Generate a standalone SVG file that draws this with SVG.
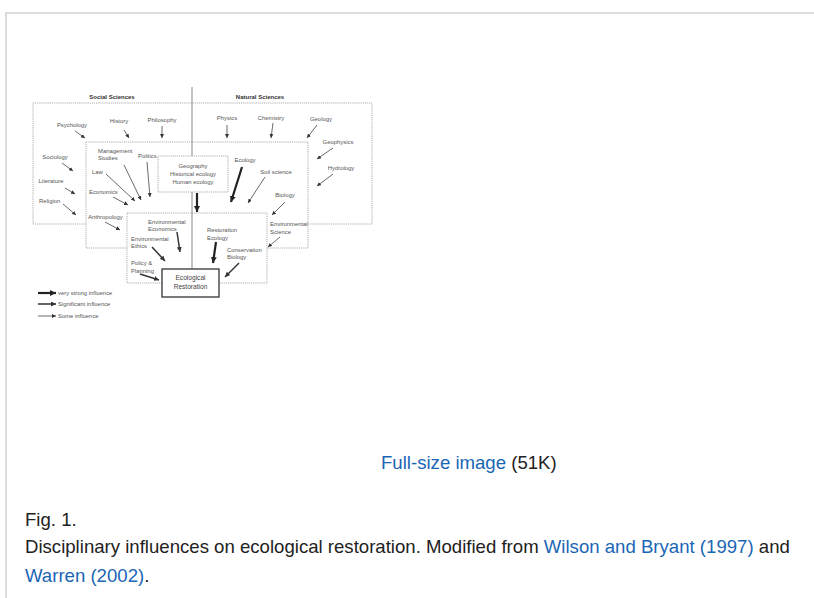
<svg xmlns="http://www.w3.org/2000/svg" width="814" height="598" viewBox="0 0 814 598">
<style>
.t{font-family:"Liberation Sans",Arial,sans-serif;font-size:5.9px;fill:#555}
.c{text-anchor:middle}
.b{font-weight:bold;fill:#333;font-size:6px}
.er{font-size:6.6px;fill:#444}
.box{fill:#fff;stroke:#999;stroke-width:0.8;stroke-dasharray:1.2 0.9}
.a1{fill:none;stroke:#444;stroke-width:0.8;marker-end:url(#h1)}
.a2{fill:none;stroke:#333;stroke-width:1.5;marker-end:url(#h2)}
.a3{fill:none;stroke:#222;stroke-width:2.2;marker-end:url(#h3)}
.cap{font-family:"Liberation Sans",Arial,sans-serif;font-size:18.6px;fill:#222}
.lnk{fill:#1a66b5}
</style>
<defs>
<marker id="h1" markerUnits="userSpaceOnUse" markerWidth="5" markerHeight="4" refX="4" refY="2" orient="auto"><path d="M0,0 L4,2 L0,4 Z" fill="#333"/></marker>
<marker id="h2" markerUnits="userSpaceOnUse" markerWidth="6" markerHeight="5" refX="5" refY="2.5" orient="auto"><path d="M0,0 L5,2.5 L0,5 Z" fill="#333"/></marker>
<marker id="h3" markerUnits="userSpaceOnUse" markerWidth="7" markerHeight="6" refX="6" refY="3" orient="auto"><path d="M0,0 L6,3 L0,6 Z" fill="#222"/></marker>
</defs>
<rect width="814" height="598" fill="#fff"/>
<g id="page-frame">
<line x1="5" y1="13" x2="814" y2="13" stroke="#dcdcdc" stroke-width="2"/>
<line x1="6" y1="12" x2="6" y2="598" stroke="#dcdcdc" stroke-width="2"/>
</g>
<g id="outer-box"><rect class="box" x="33" y="103" width="339" height="121"/></g>
<g id="middle-box"><rect class="box" x="86" y="142" width="222" height="106"/></g>
<g id="inner-box"><rect class="box" x="127" y="213" width="140" height="70"/></g>
<g id="divider"><line x1="192" y1="87" x2="192" y2="269" stroke="#888" stroke-width="1"/></g>
<g id="geography">
<rect class="box" x="158" y="156" width="70" height="36"/>
<text class="t c" x="193" y="168">Geography</text>
<text class="t c" x="193" y="176">Historical ecology</text>
<text class="t c" x="193" y="184">Human ecology</text>
</g>
<g id="ecological-restoration">
<rect x="162" y="269" width="57" height="28" fill="#fff" stroke="#333" stroke-width="1.3"/>
<text class="t c er" x="190.5" y="280">Ecological</text>
<text class="t c er" x="190.5" y="288.5">Restoration</text>
</g>
<g id="titles">
<text class="t c b" x="112" y="99">Social Sciences</text>
<text class="t c b" x="260" y="99">Natural Sciences</text>
</g>
<g id="psychology"><text class="t c" x="72" y="127">Psychology</text></g>
<g id="history"><text class="t c" x="119" y="123">History</text></g>
<g id="philosophy"><text class="t c" x="162" y="122">Philosophy</text></g>
<g id="physics"><text class="t c" x="227" y="120">Physics</text></g>
<g id="chemistry"><text class="t c" x="271" y="120">Chemistry</text></g>
<g id="geology"><text class="t c" x="321" y="121">Geology</text></g>
<g id="geophysics"><text class="t c" x="338" y="144">Geophysics</text></g>
<g id="hydrology"><text class="t c" x="341" y="170">Hydrology</text></g>
<g id="sociology"><text class="t c" x="55" y="159">Sociology</text></g>
<g id="literature"><text class="t c" x="51" y="183">Literature</text></g>
<g id="religion"><text class="t" x="39" y="203">Religion</text></g>
<g id="management"><text class="t" x="98" y="153">Management</text><text class="t" x="98" y="160">Studies</text></g>
<g id="politics"><text class="t" x="138" y="158">Politics</text></g>
<g id="law"><text class="t" x="92" y="174">Law</text></g>
<g id="economics"><text class="t" x="89" y="194">Economics</text></g>
<g id="anthropology"><text class="t" x="88" y="219">Anthropology</text></g>
<g id="ecology"><text class="t c" x="245" y="162">Ecology</text></g>
<g id="soil-science"><text class="t c" x="276" y="174">Soil science</text></g>
<g id="biology"><text class="t c" x="285" y="197">Biology</text></g>
<g id="environmental-science"><text class="t" x="270" y="226">Environmental</text><text class="t" x="270" y="233.5">Science</text></g>
<g id="environmental-economics"><text class="t" x="148" y="224">Environmental</text><text class="t" x="148" y="231">Economics</text></g>
<g id="restoration-ecology"><text class="t" x="207" y="232">Restoration</text><text class="t" x="207" y="239.5">Ecology</text></g>
<g id="conservation-biology"><text class="t" x="227" y="252">Conservation</text><text class="t" x="227" y="259">Biology</text></g>
<g id="environmental-ethics"><text class="t" x="131" y="241">Environmental</text><text class="t" x="131" y="248">Ethics</text></g>
<g id="policy-planning"><text class="t" x="131" y="265">Policy &amp;</text><text class="t" x="131" y="272.5">Planning</text></g>
<g id="connectors">
<path class="a1" d="M75,131 L85,138"/>
<path class="a1" d="M124,130 L129,138"/>
<path class="a1" d="M162,126 L162,138"/>
<path class="a1" d="M62,163 L73,171"/>
<path class="a1" d="M65,188 L75,194"/>
<path class="a1" d="M63,204 L76,215"/>
<path class="a1" d="M124,165 L141,200"/>
<path class="a1" d="M106,174 L135,201"/>
<path class="a1" d="M147,162 L150,197"/>
<path class="a1" d="M113,197 L128,205"/>
<path class="a1" d="M105,222 L120,230"/>
<path class="a1" d="M227,125 L227,138"/>
<path class="a1" d="M273,123 L271,138"/>
<path class="a1" d="M317,125 L307,138"/>
<path class="a1" d="M333,148 L317,159"/>
<path class="a1" d="M333,174 L317,186"/>
<path class="a3" d="M242,167 L231,202"/>
<path class="a1" d="M265,177 L248,203"/>
<path class="a1" d="M285,202 L272,215"/>
<path class="a1" d="M280,237 L268,247"/>
<path class="a3" d="M197,193 L197,212"/>
<path class="a3" d="M216,242 L213,263"/>
<path class="a2" d="M239,263 L225,277"/>
<path class="a2" d="M177,232 L180,252"/>
<path class="a2" d="M152,247 L165,261"/>
<path class="a2" d="M140,274 L159,280"/>
</g>
<g id="legend">
<path class="a3" d="M38,293 L56,293"/>
<path class="a2" d="M38,304 L56,304"/>
<path class="a1" d="M38,316 L56,316"/>
<text class="t" x="58" y="295">very strong influence</text>
<text class="t" x="58" y="306">Significant influence</text>
<text class="t" x="58" y="318">Some influence</text>
</g>
<g id="caption">
<text class="cap" x="381" y="469"><tspan class="lnk">Full-size image</tspan> (51K)</text>
<text class="cap" x="25" y="526">Fig. 1.</text>
<text class="cap" x="25" y="553">Disciplinary influences on ecological restoration. Modified from <tspan class="lnk">Wilson and Bryant (1997)</tspan> and</text>
<text class="cap" x="25" y="582"><tspan class="lnk">Warren (2002)</tspan>.</text>
</g>
</svg>
